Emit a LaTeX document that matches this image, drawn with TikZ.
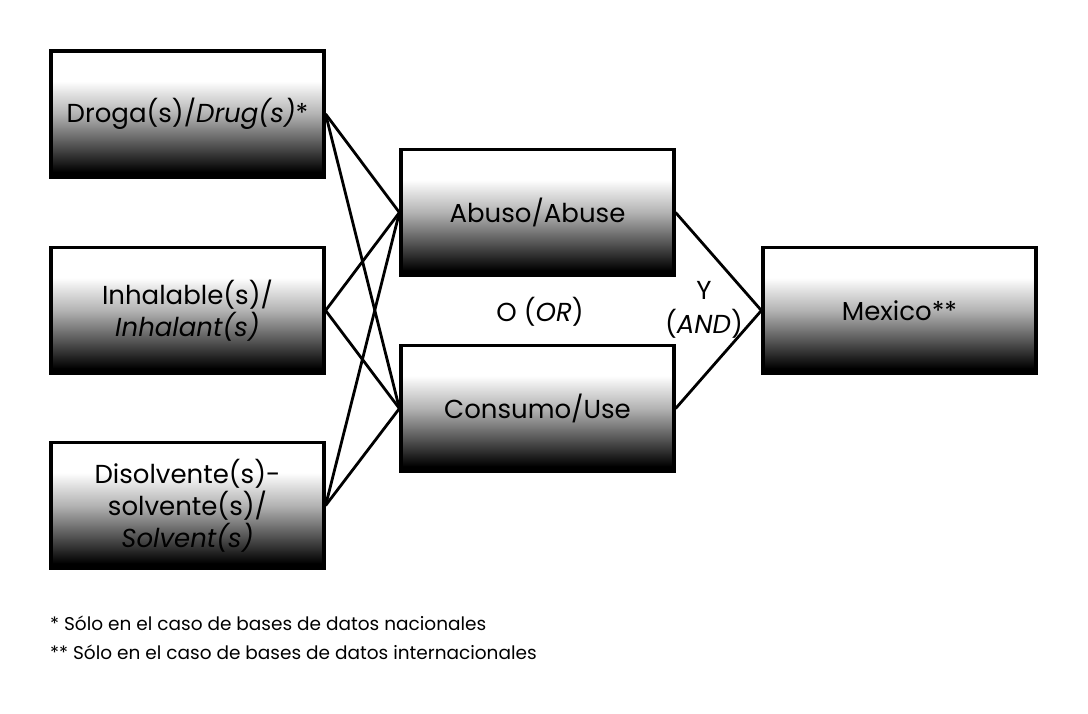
\documentclass[tikz,border=0pt]{standalone}
\usepackage{fontspec}
\setmainfont{Poppins}
\pgfdeclareverticalshading{boxshade}{100bp}{color(0bp)=(black); color(27bp)=(black); color(37.5bp)=(black!68); color(50bp)=(black!30); color(58bp)=(black!12); color(63bp)=(white); color(100bp)=(white)}
\tikzset{
  box/.style={draw=black, line width=3.2pt, shading=boxshade, minimum width=273pt, minimum height=126pt, inner sep=0pt, align=center, font=\fontsize{26}{32}\selectfont},
  link/.style={line width=2.8pt},
  lbl/.style={inner sep=0pt, align=center, font=\fontsize{26}{34}\selectfont},
  note/.style={inner sep=0pt, anchor=west, font=\fontsize{18.5}{24}\selectfont}
}
\begin{document}
\begin{tikzpicture}[x=1pt,y=-1pt]
\useasboundingbox (0,0) rectangle (1088,713);
\node[box] (drug) at (187.5,114) {Droga(s)/\textit{Drug(s)}*};
\node[box] (inh) at (187.5,310.5) {Inhalable(s)/\\\textit{Inhalant(s)}};
\node[box] (sol) at (187.5,505.5) {Disolvente(s)-\\solvente(s)/\\\textit{Solvent(s)}};
\node[box] (abu) at (537.5,212.5) {Abuso/Abuse};
\node[box] (con) at (537.5,408.5) {Consumo/Use};
\node[box, minimum width=273pt] (mex) at (899.5,310.5) {Mexico**};
\foreach \s in {drug,inh,sol}{
  \draw[link] (\s.east) -- (abu.west);
  \draw[link] (\s.east) -- (con.west);
}
\draw[link] (abu.east) -- (mex.west);
\draw[link] (con.east) -- (mex.west);
\node[lbl] (or) at (540,312) {O (\textit{OR})};
\node[lbl] (and) at (704,310) {Y\\(\textit{AND})};
\node[note] (n1) at (50,623) {* Sólo en el caso de bases de datos nacionales};
\node[note] (n2) at (50,652) {** Sólo en el caso de bases de datos internacionales};
\end{tikzpicture}
\end{document}
